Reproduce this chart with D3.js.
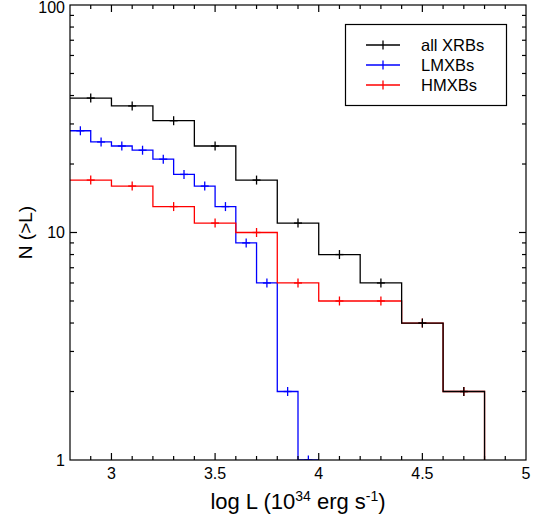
<!DOCTYPE html>
<html>
<head>
<meta charset="utf-8">
<script src="https://cdn.jsdelivr.net/npm/d3@7"></script>
<style>
  html, body { margin: 0; padding: 0; background: #fff; }
  svg { display: block; font-family: "Liberation Sans", Arial, sans-serif; }
</style>
</head>
<body>
<svg id="chart" width="541" height="524"></svg>
<script>
// Cumulative counts N(>L) per luminosity bin (log L in units of 1e34 erg/s)
const allBinStart = [2.8, 3.0, 3.2, 3.4, 3.6, 3.8, 4.0, 4.2, 4.4, 4.6];
const allXRBs     = [39, 36, 31, 24, 17, 11, 8, 6, 4, 2];
const hmxbBinStart = [2.8, 3.0, 3.2, 3.4, 3.6, 3.8, 4.0, 4.2, 4.4, 4.6];
const hmxbs        = [17, 16, 13, 11, 10, 6, 5, 5, 4, 2];
const lmxbBinStart = [2.8, 2.9, 3.0, 3.1, 3.2, 3.3, 3.4, 3.5, 3.6, 3.7, 3.8, 3.9];
const lmxbs        = [28, 25, 24, 23, 21, 18, 16, 13, 9, 6, 2, 1];
const wideBin = 0.2, narrowBin = 0.1;

const seriesNames = ["all XRBs", "LMXBs", "HMXBs"];
const xTickLabels = [3, 3.5, 4, 4.5, 5];
const yTickLabels = [1, 10, 100];

const svg = d3.select("#chart");
const plotL = 70, plotR = 526, plotT = 5, plotB = 460;

const x = d3.scaleLinear().domain([2.8, 5.0]).range([plotL, plotR]);
const y = d3.scaleLog().domain([1, 100]).range([plotB, plotT]);

svg.append("defs").append("clipPath").attr("id", "plotClip")
  .append("rect").attr("x", plotL).attr("y", plotT)
  .attr("width", plotR - plotL).attr("height", plotB - plotT);

const plot = svg.append("g").attr("clip-path", "url(#plotClip)");

const stepLine = d3.line().x(d => x(d[0])).y(d => y(d[1])).curve(d3.curveStepAfter);

function drawSeries(starts, values, width, color) {
  const pts = starts.map((s, i) => [s, values[i]]);
  const end = starts[starts.length - 1] + width;
  pts.push([end, 1]);
  plot.append("path").attr("d", stepLine(pts))
    .attr("fill", "none").attr("stroke", color).attr("stroke-width", 1.3);
  const g = plot.append("g").attr("stroke", color).attr("stroke-width", 1.3);
  starts.forEach((s, i) => {
    const cx = x(s + width / 2), cy = y(values[i]);
    g.append("line").attr("x1", cx).attr("x2", cx).attr("y1", cy - 4.5).attr("y2", cy + 4.5);
    g.append("line").attr("x1", cx - 4).attr("x2", cx + 4).attr("y1", cy).attr("y2", cy);
  });
}

drawSeries(lmxbBinStart, lmxbs, narrowBin, "#0000ff");
drawSeries(hmxbBinStart, hmxbs, wideBin, "#ff0000");
drawSeries(allBinStart, allXRBs, wideBin, "#000000");

// Frame and ticks (mirrored on all four sides, pointing inward)
const axes = svg.append("g").attr("stroke", "#000").attr("stroke-width", 1.2);
axes.append("rect").attr("x", plotL).attr("y", plotT)
  .attr("width", plotR - plotL).attr("height", plotB - plotT).attr("fill", "none");

for (let i = 29; i <= 49; i++) {
  const v = i / 10;
  const major = i % 5 === 0;
  const len = major ? 7 : 4;
  const px = x(v);
  axes.append("line").attr("x1", px).attr("x2", px).attr("y1", plotB).attr("y2", plotB - len);
  axes.append("line").attr("x1", px).attr("x2", px).attr("y1", plotT).attr("y2", plotT + len);
}
for (let d = 1; d <= 10; d *= 10) {
  for (let m = 1; m <= 9; m++) {
    const v = d * m;
    if (v <= 1 || v >= 100) continue;
    const len = m === 1 ? 7 : 4;
    const py = y(v);
    axes.append("line").attr("x1", plotL).attr("x2", plotL + len).attr("y1", py).attr("y2", py);
    axes.append("line").attr("x1", plotR).attr("x2", plotR - len).attr("y1", py).attr("y2", py);
  }
}

// Tick labels (the top label is kept inside the canvas)
svg.append("g").selectAll("text").data(xTickLabels).join("text")
  .attr("x", d => x(d)).attr("y", 479).attr("text-anchor", "middle")
  .attr("font-size", 16).attr("fill", "#000").text(d => d);
svg.append("g").selectAll("text").data(yTickLabels).join("text")
  .attr("x", 65).attr("y", d => Math.max(y(d) + 5.5, 13)).attr("text-anchor", "end")
  .attr("font-size", 16).attr("fill", "#000").text(d => d);

// Axis titles
const xt = svg.append("text").attr("x", (plotL + plotR) / 2).attr("y", 509)
  .attr("text-anchor", "middle").attr("font-size", 22).attr("fill", "#000");
xt.append("tspan").text("log L (10");
xt.append("tspan").attr("font-size", 14).attr("dy", -8.5).text("34");
xt.append("tspan").attr("dy", 8.5).text(" erg s");
xt.append("tspan").attr("font-size", 14).attr("dy", -8.5).text("-1");
xt.append("tspan").attr("dy", 8.5).text(")");

svg.append("text").attr("transform", `translate(32,${(plotT + plotB) / 2}) rotate(-90)`)
  .attr("text-anchor", "middle").attr("font-size", 19).attr("fill", "#000").text("N (>L)");

// Legend
const colors = ["#000000", "#0000ff", "#ff0000"];
const leg = svg.append("g");
leg.append("rect").attr("x", 345.5).attr("y", 24.5).attr("width", 161).attr("height", 81)
  .attr("fill", "#fff").attr("stroke", "#000").attr("stroke-width", 1.2);
seriesNames.forEach((name, i) => {
  const ly = 45 + i * 20;
  leg.append("line").attr("x1", 366).attr("x2", 400).attr("y1", ly).attr("y2", ly)
    .attr("stroke", colors[i]).attr("stroke-width", 1.3);
  leg.append("line").attr("x1", 383).attr("x2", 383).attr("y1", ly - 4.5).attr("y2", ly + 4.5)
    .attr("stroke", colors[i]).attr("stroke-width", 1.3);
  leg.append("text").attr("x", 421).attr("y", ly + 6).attr("font-size", 16.5)
    .attr("fill", "#000").text(name);
});
</script>
</body>
</html>
